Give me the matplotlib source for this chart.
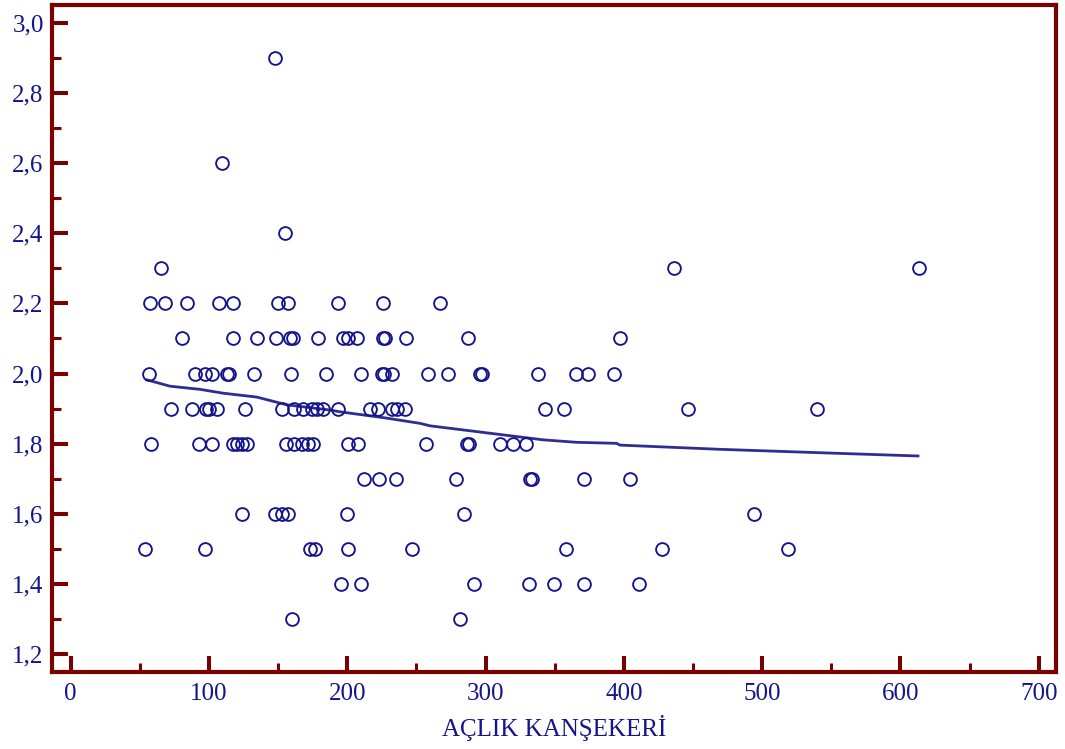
import matplotlib
matplotlib.use("Agg")
import matplotlib.pyplot as plt
from matplotlib.ticker import MultipleLocator, FixedLocator

# ---- data ----
# x values (AÇLIK KANŞEKERİ) for each y level
y_levels = [2.9, 2.6, 2.4, 2.3, 2.2, 2.1, 2.0, 1.9, 1.8, 1.7, 1.6, 1.5, 1.4, 1.3]
x_at_2_9 = [147.7]
x_at_2_6 = [109.4]
x_at_2_4 = [155.0]
x_at_2_3 = [65.3, 436.2, 613.4]
x_at_2_2 = [57.3, 68.2, 83.9, 107.4, 117.6, 150.1, 157.3, 193.5, 226.0, 267.0]
x_at_2_1 = [80.7, 117.6, 134.9, 148.4, 158.6, 161.0, 179.0, 197.1, 200.7, 206.8,
            226.0, 227.3, 242.4, 287.5, 397.2]
x_at_2_0 = [56.8, 89.9, 97.1, 102.0, 113.2, 114.7, 132.5, 159.6, 184.8, 209.9,
            224.9, 226.5, 232.1, 258.6, 273.0, 296.0, 297.2, 337.7, 365.4, 374.3, 393.1]
x_at_1_9 = [72.5, 87.9, 97.8, 100.2, 105.6, 125.8, 153.1, 161.8, 168.0, 174.3,
            177.9, 182.6, 193.5, 216.4, 222.4, 232.1, 235.7, 241.7, 342.9, 356.9,
            446.1, 539.4]
x_at_1_8 = [57.8, 92.8, 102.2, 117.6, 120.5, 123.6, 127.8, 155.7, 161.5, 167.0,
            171.8, 175.4, 200.7, 207.9, 256.9, 286.3, 288.2, 310.4, 320.0, 329.2]
x_at_1_7 = [212.1, 222.9, 235.2, 278.4, 332.1, 333.8, 371.4, 404.4]
x_at_1_6 = [123.6, 147.7, 152.6, 157.3, 199.6, 284.6, 494.3]
x_at_1_5 = [53.7, 97.1, 173.0, 176.6, 200.7, 246.6, 358.1, 427.8, 518.9]
x_at_1_4 = [195.2, 209.7, 291.6, 331.6, 349.7, 371.4, 411.1]
x_at_1_3 = [159.8, 281.5]
x_rows = [x_at_2_9, x_at_2_6, x_at_2_4, x_at_2_3, x_at_2_2, x_at_2_1, x_at_2_0,
          x_at_1_9, x_at_1_8, x_at_1_7, x_at_1_6, x_at_1_5, x_at_1_4, x_at_1_3]

# smoothed trend line
fit_x = [55.2, 71.8, 93.5, 110.3, 134.5, 156.2, 187.5, 194.7, 228.5, 252.6,
         259.8, 341.7, 365.9, 394.8, 397.2, 469.5, 551.4, 612.7]
fit_y = [1.982, 1.964, 1.955, 1.944, 1.933, 1.911, 1.896, 1.891, 1.873, 1.858,
         1.851, 1.811, 1.804, 1.801, 1.796, 1.784, 1.773, 1.765]

x_ticks = [0, 100, 200, 300, 400, 500, 600, 700]
x_tick_labels = ["0", "100", "200", "300", "400", "500", "600", "700"]
y_ticks = [1.2, 1.4, 1.6, 1.8, 2.0, 2.2, 2.4, 2.6, 2.8, 3.0]
y_tick_labels = ["1,2", "1,4", "1,6", "1,8", "2,0", "2,2", "2,4", "2,6", "2,8", "3,0"]
x_label = "AÇLIK KANŞEKERİ"

# ---- styling ----
axis_red = "#7b0000"
navy = "#14148c"
line_col = "#2e2e92"
plt.rcParams["font.family"] = ["Liberation Serif", "DejaVu Serif"]

fig = plt.figure(figsize=(10.65, 7.49), dpi=100)
ax = fig.add_axes([52 / 1065, 77 / 749, 1004 / 1065, 667 / 749])

xs, ys = [], []
for yv, row in zip(y_levels, x_rows):
    xs.extend(row)
    ys.extend([yv] * len(row))
ax.plot(xs, ys, linestyle="none", marker="o", markersize=9.2,
        markerfacecolor="none", markeredgecolor=navy, markeredgewidth=1.35,
        zorder=3)
ax.plot(fit_x, fit_y, color=line_col, linewidth=2.0, zorder=2)

ax.set_xlim(-13.5, 712.5)
ax.set_ylim(1.149, 3.051)

for s in ax.spines.values():
    s.set_color(axis_red)
    s.set_linewidth(3.0)

ax.xaxis.set_major_locator(FixedLocator(x_ticks))
ax.set_xticklabels(x_tick_labels)
ax.xaxis.set_minor_locator(MultipleLocator(50))
ax.yaxis.set_major_locator(FixedLocator(y_ticks))
ax.set_yticklabels(y_tick_labels)
ax.yaxis.set_minor_locator(MultipleLocator(0.1))

ax.tick_params(axis="both", which="major", direction="in", length=11.5,
               width=2.9, color=axis_red, labelsize=18, labelcolor=navy,
               top=False, right=False)
ax.tick_params(axis="both", which="minor", direction="in", length=6.5,
               width=2.2, color=axis_red, top=False, right=False)
ax.tick_params(axis="y", which="major", pad=6)
ax.tick_params(axis="x", which="major", pad=8)

ax.set_xlabel(x_label, fontsize=18, color=navy, labelpad=7)

fig.savefig("out.png", dpi=100, facecolor="white")
